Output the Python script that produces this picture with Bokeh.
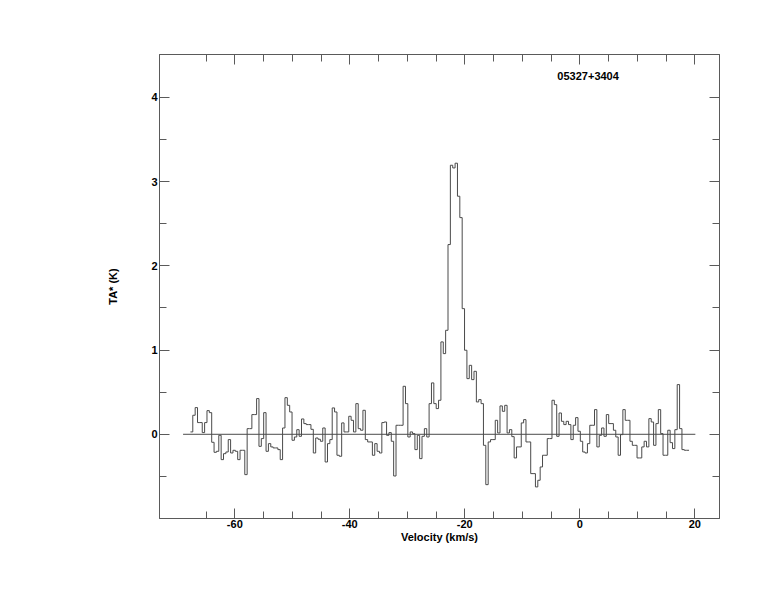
import numpy as np
from bokeh.plotting import figure
from bokeh.models import Range1d, LinearAxis, FixedTicker, Label, CustomLabelingPolicy
from bokeh.embed import file_html
from bokeh.resources import INLINE

# ---- data -----------------------------------------------------------------
source_name = "05327+3404"
v_start = -67.72      # left edge of first channel (km/s)
channel_width = 0.411 # km/s
ta_values = [
    0.028, 0.226, 0.317, 0.139, 0.139, 0.020, 0.139, 0.281, 0.257, -0.095,
    -0.214, -0.202, -0.012, -0.301, -0.230, -0.210, -0.063, -0.222, -0.190, -0.202,
    -0.301, -0.190, -0.190, -0.479, 0.067, 0.067, 0.234, 0.234, 0.424, -0.143,
    -0.051, 0.257, -0.202, -0.111, -0.150, -0.162, -0.162, -0.182, -0.301, 0.075,
    0.435, 0.344, 0.265, -0.071, -0.032, 0.055, -0.024, 0.182, 0.127, 0.115,
    0.115, 0.059, -0.222, -0.044, -0.059, -0.083, 0.075, -0.329, -0.111, -0.063,
    0.313, 0.265, -0.249, -0.261, 0.135, 0.028, 0.028, 0.214, 0.166, 0.028,
    0.364, 0.067, 0.048, 0.285, -0.063, -0.091, -0.091, -0.249, -0.111, -0.202,
    -0.222, 0.139, 0.146, -0.012, 0.020, -0.083, -0.495, 0.107, 0.107, 0.107,
    0.570, 0.364, -0.032, 0.028, 0.008, -0.182, -0.012, -0.289, -0.024, 0.067,
    -0.032, 0.364, 0.610, 0.364, 0.305, 0.404, 1.097, 0.958, 1.235, 2.253,
    3.195, 3.163, 3.219, 2.827, 2.573, 1.492, 0.998, 0.661, 0.819, 0.649,
    0.748, 0.384, 0.412, 0.364, -0.131, -0.598, -0.091, -0.063, -0.063, 0.166,
    0.016, 0.337, 0.273, 0.344, 0.016, 0.055, -0.028, -0.281, -0.150, -0.150,
    0.135, 0.174, -0.091, -0.091, -0.467, -0.467, -0.625, -0.546, -0.388, -0.249,
    -0.249, -0.051, -0.051, 0.404, 0.352, -0.024, 0.253, 0.154, 0.115, 0.154,
    0.115, -0.063, 0.107, 0.198, 0.036, -0.083, -0.210, -0.222, -0.111, 0.107,
    0.107, 0.293, -0.150, -0.012, 0.075, -0.024, 0.234, 0.127, 0.127, 0.048,
    -0.032, -0.249, -0.004, 0.293, 0.166, 0.166, -0.083, -0.131, -0.131, -0.281,
    -0.281, -0.150, -0.083, -0.150, 0.186, 0.146, -0.131, 0.127, 0.293, 0.008,
    -0.249, -0.249, 0.048, -0.099, -0.170, 0.055, 0.590, 0.067, -0.182, -0.190,
    -0.190,
]
baseline_v = [-69.0, 20.1]
baseline_t = [0.0, 0.0]

x_major = [-60, -40, -20, 0, 20]
x_major_labels = ["-60", "-40", "-20", "0", "20"]
x_minor = [-65, -60, -55, -50, -45, -40, -35, -30, -25, -20, -15, -10, -5, 0, 5, 10, 15, 20]
y_major = [0, 1, 2, 3, 4]
y_major_labels = ["0", "1", "2", "3", "4"]
y_minor = [-0.5, 0, 0.5, 1, 1.5, 2, 2.5, 3, 3.5, 4]

# ---- figure -----------------------------------------------------------------
FONT = "Liberation Sans"
AX = "#5a5a5a"
LINE = "#4a4a4a"

p = figure(width=766, height=604, output_backend="svg", toolbar_location=None,
           x_range=Range1d(-73.1, 24.3), y_range=Range1d(-1.0, 4.51),
           x_axis_label="Velocity (km/s)", y_axis_label="TA* (K)",
           min_border_left=159, min_border_right=47, min_border_top=54,
           min_border_bottom=86)
p.xgrid.visible = False
p.ygrid.visible = False
p.outline_line_color = AX
p.background_fill_color = "white"
p.border_fill_color = "white"

n = len(ta_values)
edges = v_start + channel_width * np.arange(n + 1)
yvals = list(ta_values) + [ta_values[-1]]
p.step(x=edges, y=yvals, mode="after", line_color=LINE, line_width=1)
p.line(x=baseline_v, y=baseline_t, line_color=LINE, line_width=1)

xt = FixedTicker(ticks=x_major, minor_ticks=x_minor)
yt = FixedTicker(ticks=y_major, minor_ticks=y_minor)

def style(ax):
    ax.axis_line_color = AX
    ax.major_tick_line_color = AX
    ax.minor_tick_line_color = AX
    ax.major_tick_in = 10
    ax.major_tick_out = 0
    ax.minor_tick_in = 7
    ax.minor_tick_out = 0
    ax.major_label_text_font = FONT
    ax.major_label_text_font_style = "bold"
    ax.major_label_text_font_size = "11px"
    ax.major_label_text_color = "black"
    ax.axis_label_text_font = FONT
    ax.axis_label_text_font_style = "bold"
    ax.axis_label_text_font_size = "11px"
    ax.axis_label_text_color = "black"

xa = p.xaxis[0]
xa.ticker = xt
style(xa)
xa.major_label_overrides = {v: s for v, s in zip(x_major, x_major_labels)}
xa.major_label_standoff = 1
xa.axis_label_standoff = 0

ya = p.yaxis[0]
ya.ticker = yt
style(ya)
ya.major_label_overrides = {v: s for v, s in zip(y_major, y_major_labels)}
ya.major_label_standoff = 2
ya.axis_label_standoff = 29

no_labels = CustomLabelingPolicy(
    code="const n = indices.size; for (let i = 0; i < n; i++) { indices.unset(i) } return indices")

top = LinearAxis(ticker=FixedTicker(ticks=x_major, minor_ticks=x_minor),
                 major_label_policy=no_labels)
style(top)
p.add_layout(top, "above")
right = LinearAxis(ticker=FixedTicker(ticks=y_major, minor_ticks=y_minor),
                   major_label_policy=no_labels)
style(right)
p.add_layout(right, "right")

p.add_layout(Label(x=-3.9, y=4.26, text=source_name, text_font=FONT,
                   text_font_style="bold", text_font_size="11px",
                   text_color="black", text_baseline="alphabetic"))

open("out.html", "w").write(file_html(p, INLINE))
